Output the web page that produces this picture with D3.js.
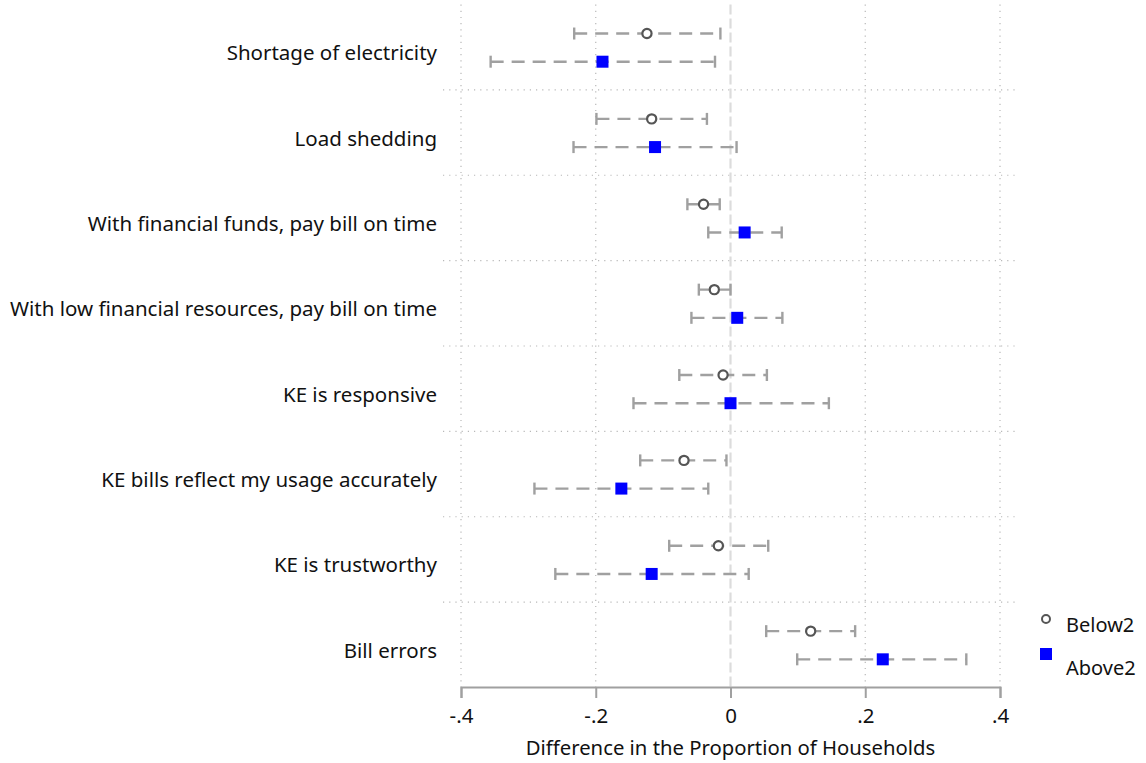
<!DOCTYPE html>
<html>
<head>
<meta charset="utf-8">
<script src="https://cdnjs.cloudflare.com/ajax/libs/d3/7.8.5/d3.min.js"></script>
<style>
body { margin: 0; background: #fff; }
text { font-family: "Noto Sans", sans-serif; fill: #111; }
</style>
</head>
<body>
<svg id="chart" width="1146" height="763"></svg>
<script>
var categories = ["Shortage of electricity", "Load shedding", "With financial funds, pay bill on time",
	"With low financial resources, pay bill on time", "KE is responsive ", "KE bills reflect my usage accurately",
	"KE is trustworthy", "Bill errors"];

var belowEst = [-0.124, -0.117, -0.040, -0.024, -0.011, -0.069, -0.018, 0.119];
var belowLo = [-0.232, -0.199, -0.064, -0.047, -0.076, -0.134, -0.091, 0.053];
var belowHi = [-0.015, -0.035, -0.016, 0.000, 0.054, -0.006, 0.056, 0.185];

var aboveEst = [-0.190, -0.112, 0.021, 0.010, 0.000, -0.162, -0.117, 0.226];
var aboveLo = [-0.356, -0.233, -0.033, -0.058, -0.144, -0.291, -0.260, 0.099];
var aboveHi = [-0.023, 0.009, 0.076, 0.077, 0.146, -0.033, 0.027, 0.350];

var xTicks = [-0.4, -0.2, 0, 0.2, 0.4];
var tickLabels = ["-.4", "-.2", "0", ".2", ".4"];
var seriesNames = ["Below2", "Above2"];

var svg = d3.select("#chart");
var x = d3.scaleLinear().domain([-0.4, 0.4]).range([461, 1000]);
var y = d3.scaleBand().domain(categories).range([4.5, 687.5]);
var bw = y.bandwidth();

var rows = [];
categories.forEach(function(c, i) {
	rows.push({ cat: c, s: 0, est: belowEst[i], lo: belowLo[i], hi: belowHi[i], off: 0.34 });
	rows.push({ cat: c, s: 1, est: aboveEst[i], lo: aboveLo[i], hi: aboveHi[i], off: 0.67 });
});

// grid
svg.append("g").selectAll("line")
	.data(xTicks.filter(function(d) { return d !== 0; }))
	.enter().append("line")
	.attr("x1", function(d) { return x(d); }).attr("x2", function(d) { return x(d); })
	.attr("y1", 4.5).attr("y2", 687)
	.attr("stroke", "#b8b8b8").attr("stroke-width", 1.2).attr("stroke-dasharray", "1.2,5");

svg.append("g").selectAll("line")
	.data(categories.slice(1))
	.enter().append("line")
	.attr("x1", 443).attr("x2", 1018)
	.attr("y1", function(d) { return y(d); }).attr("y2", function(d) { return y(d); })
	.attr("stroke", "#b8b8b8").attr("stroke-width", 1.2).attr("stroke-dasharray", "1.2,5");

svg.append("line")
	.attr("x1", x(0)).attr("x2", x(0)).attr("y1", 4.5).attr("y2", 687)
	.attr("stroke", "#dcdcdc").attr("stroke-width", 2.2).attr("stroke-dasharray", "10,4");

// error bars
var bars = svg.append("g").selectAll("g").data(rows).enter().append("g")
	.attr("transform", function(d) { return "translate(0," + (y(d.cat) + bw * d.off) + ")"; });
bars.append("line")
	.attr("x1", function(d) { return x(d.lo); }).attr("x2", function(d) { return x(d.hi); })
	.attr("stroke", "#a0a0a0").attr("stroke-width", 2.4).attr("stroke-dasharray", "13,8");
bars.append("line")
	.attr("x1", function(d) { return x(d.lo); }).attr("x2", function(d) { return x(d.lo); })
	.attr("y1", -6).attr("y2", 6)
	.attr("stroke", "#a0a0a0").attr("stroke-width", 2.4);
bars.append("line")
	.attr("x1", function(d) { return x(d.hi); }).attr("x2", function(d) { return x(d.hi); })
	.attr("y1", -6).attr("y2", 6)
	.attr("stroke", "#a0a0a0").attr("stroke-width", 2.4);

bars.filter(function(d) { return d.s === 0; }).append("circle")
	.attr("cx", function(d) { return x(d.est); }).attr("r", 4.6)
	.attr("fill", "#fff").attr("stroke", "#555").attr("stroke-width", 2.2);
bars.filter(function(d) { return d.s === 1; }).append("rect")
	.attr("x", function(d) { return x(d.est) - 6; }).attr("y", -6)
	.attr("width", 12).attr("height", 12).attr("fill", "#0000ff");

// category labels
svg.append("g").selectAll("text").data(categories).enter().append("text")
	.attr("x", 437).attr("y", function(d) { return y(d) + bw / 2 + 5; })
	.attr("text-anchor", "end").attr("dominant-baseline", "central")
	.style("font-size", "20.5px")
	.text(function(d) { return d; });

// x axis
var axis = svg.append("g").attr("transform", "translate(0,687)")
	.call(d3.axisBottom(x).tickValues(xTicks).tickSize(11).tickPadding(10)
		.tickFormat(function(d, i) { return tickLabels[i]; }));
axis.select(".domain").attr("stroke", "#a0a0a0").attr("stroke-width", 2);
axis.selectAll(".tick line").attr("stroke", "#a0a0a0").attr("stroke-width", 2);
axis.selectAll(".tick text").style("font-size", "20.5px").style("font-family", "'Noto Sans', sans-serif").attr("fill", "#111");

svg.append("text").attr("x", x(0)).attr("y", 747)
	.attr("text-anchor", "middle").attr("dominant-baseline", "central")
	.style("font-size", "20.3px").text("Difference in the Proportion of Households");

// legend
var leg = svg.append("g");
leg.append("circle").attr("cx", 1046).attr("cy", 619).attr("r", 4)
	.attr("fill", "#fff").attr("stroke", "#555").attr("stroke-width", 2);
leg.append("rect").attr("x", 1040).attr("y", 648).attr("width", 12).attr("height", 12).attr("fill", "#0000ff");
leg.selectAll("text").data(seriesNames).enter().append("text")
	.attr("x", 1066).attr("y", function(d, i) { return 624 + i * 43; })
	.attr("dominant-baseline", "central").style("font-size", "20px")
	.text(function(d) { return d; });
</script>
</body>
</html>
